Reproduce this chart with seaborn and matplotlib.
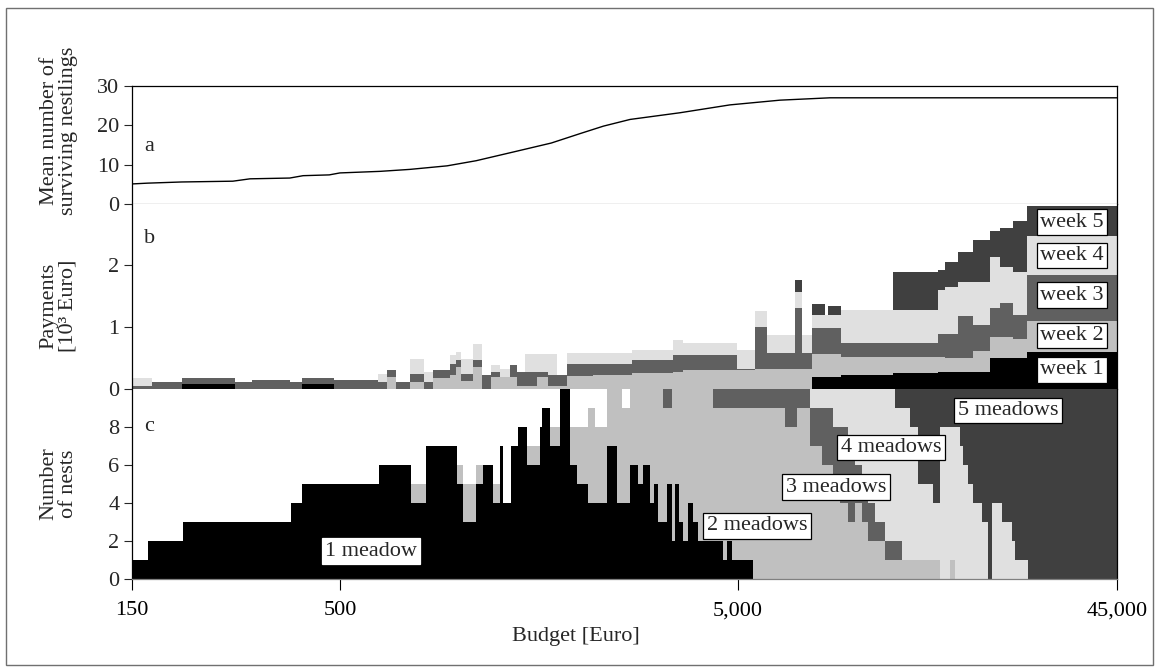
import numpy as np
import matplotlib
matplotlib.use("Agg")
import matplotlib.pyplot as plt
from matplotlib.patches import Rectangle
from matplotlib.ticker import FixedLocator, FixedFormatter, NullLocator
import seaborn as sns

# ---- panel a: mean number of surviving nestlings ----
a_budget = [150, 164, 200, 269, 297, 374, 404, 470, 500, 631, 750, 930, 1100,
            1362, 1700, 2009, 2300, 2684, 3583, 4786, 6394, 8544, 45000]
a_nestlings = [5.1, 5.3, 5.6, 5.8, 6.4, 6.6, 7.2, 7.4, 7.9, 8.3, 8.8, 9.7, 11.0,
               13.2, 15.5, 17.9, 19.8, 21.5, 23.2, 25.2, 26.4, 27.0, 27.0]

# ---- panel b: payments per week [10^3 Euro], step segments ----
b_edges = [150, 168, 200, 272, 300, 375, 401, 483, 623, 657, 692, 750, 814, 857,
           946, 979, 1008, 1080, 1138, 1199, 1263, 1338, 1394, 1460, 1565, 1668,
           1757, 1862, 2164, 2714, 3441, 3646, 4984, 5532, 5930, 6974, 7262, 7695,
           8297, 8442, 9102, 12300, 15962, 16623, 17922, 19549, 21572, 22858,
           24644, 26726, 45000]
b_week1 = [0, 0, 0.08, 0, 0, 0, 0.08, 0, 0, 0, 0, 0, 0, 0,
           0, 0, 0, 0, 0, 0, 0, 0, 0, 0, 0, 0,
           0, 0, 0, 0, 0, 0, 0, 0, 0, 0, 0, 0.20,
           0.20, 0.20, 0.23, 0.25, 0.27, 0.28, 0.28, 0.28, 0.50, 0.50,
           0.50, 0.60]
b_week2 = [0, 0, 0, 0, 0, 0, 0, 0, 0, 0.19, 0, 0.12, 0, 0.17,
           0.22, 0.36, 0.13, 0.36, 0, 0.20, 0.20, 0.20, 0.05, 0.05, 0.20, 0.05,
           0.05, 0.21, 0.23, 0.25, 0.28, 0.31, 0.31, 0.33, 0.33, 0.33, 0.33, 0.36,
           0.36, 0.36, 0.29, 0.27, 0.25, 0.22, 0.22, 0.34, 0.34, 0.34,
           0.30, 0.49]
b_week3 = [0.05, 0.12, 0.09, 0.12, 0.145, 0.12, 0.09, 0.145, 0.12, 0.12, 0.12, 0.12, 0.12, 0.14,
           0.18, 0.10, 0.11, 0.11, 0.23, 0.07, 0, 0.18, 0.22, 0.22, 0.07, 0.18,
           0.18, 0.20, 0.18, 0.21, 0.27, 0.24, 0.02, 0.67, 0.25, 0.97, 0.25, 0.42,
           0.42, 0.42, 0.22, 0.22, 0.37, 0.39, 0.67, 0.41, 0.46, 0.55,
           0.40, 0.75]
b_week4 = [0.12, 0, 0, 0, 0, 0, 0, 0, 0.12, 0, 0, 0.25, 0.16, 0,
           0.15, 0.13, 0.25, 0.26, 0, 0.12, 0.13, 0, 0, 0.29, 0.29, 0.33,
           0, 0.17, 0.17, 0.17, 0.24, 0.19, 0.30, 0.26, 0.29, 0.27, 0.29, 0.21,
           0.21, 0.21, 0.53, 0.53, 0.71, 0.75, 0.56, 0.70, 0.82, 0.58,
           0.68, 0.62]
b_week5 = [0, 0, 0, 0, 0, 0, 0, 0, 0, 0, 0, 0, 0, 0,
           0, 0, 0, 0, 0, 0, 0, 0, 0, 0, 0, 0,
           0, 0, 0, 0, 0, 0, 0, 0, 0, 0.19, 0, 0.18,
           0, 0.14, 0, 0.62, 0.32, 0.41, 0.47, 0.67, 0.43, 0.63,
           0.82, 0.49]
week_labels = ["week 1", "week 2", "week 3", "week 4", "week 5"]
week_label_y = [0.31, 0.86, 1.51, 2.15, 2.69]

# ---- panel c: number of nests by number of meadows, step segments ----
c_edges = [150, 164.5, 201.6, 376.6, 401.4, 627, 754.6, 823, 985, 1020, 1100,
           1145, 1213, 1263, 1285, 1346, 1402, 1477, 1593, 1611, 1687, 1788,
           1895, 1973, 2103, 2190, 2348, 2488, 2561, 2682, 2809, 2892, 3011,
           3082, 3155, 3248, 3324, 3421, 3481, 3562, 3646, 3753, 3863, 3977,
           4338, 4597, 4704, 4842, 5072, 5469, 6034, 6581, 7056, 7607, 8154,
           8690, 9049, 9478, 9871, 10280, 10643, 11084, 11743, 12443, 12959,
           13574, 14216, 15507, 16150, 17112, 17614, 18133, 18449, 18992,
           19549, 20594, 21323, 21822, 23123, 24502, 24931, 26882, 45000]
c_meadow1 = [1, 2, 3, 4, 5, 6, 4, 7, 5, 3, 5,
             6, 4, 7, 4, 7, 8, 6, 8, 9, 7, 10,
             6, 5, 4, 4, 7, 4, 4, 6, 5, 6, 4,
             5, 3, 3, 5, 2, 5, 3, 2, 4, 3, 2,
             2, 1, 2, 1, 1, 0, 0, 0, 0, 0, 0,
             0, 0, 0, 0, 0, 0, 0, 0, 0, 0,
             0, 0, 0, 0, 0, 0, 0, 0, 0,
             0, 0, 0, 0, 0, 0, 0, 0]
c_meadow2 = [0, 0, 0, 0, 0, 0, 1, 0, 1, 2, 1,
             0, 1, 0, 0, 0, 0, 1, 0, 0, 1, 0,
             2, 3, 5, 4, 3, 6, 5, 4, 5, 4, 6,
             5, 7, 6, 4, 8, 5, 7, 8, 6, 7, 8,
             7, 8, 7, 8, 8, 9, 9, 8, 9, 7, 6,
             5, 4, 3, 4, 3, 2, 2, 1, 1, 1,
             1, 1, 1, 0, 1, 0, 0, 0, 0,
             0, 0, 0, 0, 0, 0, 0, 0]
c_meadow3 = [0, 0, 0, 0, 0, 0, 0, 0, 0, 0, 0,
             0, 0, 0, 0, 0, 0, 0, 0, 0, 0, 0,
             0, 0, 0, 0, 0, 0, 0, 0, 0, 0, 0,
             0, 0, 1, 1, 0, 0, 0, 0, 0, 0, 0,
             1, 1, 1, 1, 1, 1, 1, 2, 1, 2, 3,
             3, 4, 4, 2, 2, 2, 1, 1, 1, 0,
             0, 0, 0, 0, 0, 0, 0, 0, 0,
             0, 0, 0, 0, 0, 0, 0, 0]
c_meadow4 = [0, 0, 0, 0, 0, 0, 0, 0, 0, 0, 0,
             0, 0, 0, 0, 0, 0, 0, 0, 0, 0, 0,
             0, 0, 0, 0, 0, 0, 0, 0, 0, 0, 0,
             0, 0, 0, 0, 0, 0, 0, 0, 0, 0, 0,
             0, 0, 0, 0, 0, 0, 0, 0, 0, 1, 1,
             2, 2, 3, 4, 5, 6, 7, 8, 7, 8,
             7, 4, 3, 8, 7, 8, 7, 6, 5,
             4, 3, 0, 4, 3, 2, 1, 0]
c_meadow5 = [0, 0, 0, 0, 0, 0, 0, 0, 0, 0, 0,
             0, 0, 0, 0, 0, 0, 0, 0, 0, 0, 0,
             0, 0, 0, 0, 0, 0, 0, 0, 0, 0, 0,
             0, 0, 0, 0, 0, 0, 0, 0, 0, 0, 0,
             0, 0, 0, 0, 0, 0, 0, 0, 0, 0, 0,
             0, 0, 0, 0, 0, 0, 0, 0, 1, 1,
             2, 5, 6, 2, 2, 2, 3, 4, 5,
             6, 7, 10, 6, 7, 8, 9, 10]
meadow_labels = ["1 meadow", "2 meadows", "3 meadows", "4 meadows", "5 meadows"]
meadow_label_x = [599, 5597, 8842, 12159, 23942]
meadow_label_y = [1.47, 2.79, 4.84, 6.92, 8.87]

x_ticks = [150, 500, 5000, 45000]
x_ticklabels = ["150", "500", "5,000", "45,000"]

GREYS = ["#000000", "#c0c0c0", "#606060", "#e0e0e0", "#404040"]
AXIS_GREY = "#808080"
FS = 16

sns.set_style("white")
plt.rcParams["font.family"] = ["Liberation Serif", "DejaVu Serif"]
plt.rcParams["font.size"] = FS

fig = plt.figure(figsize=(11.6, 6.72), dpi=100)
fig.patches.append(Rectangle((6 / 1160, 1 - 665 / 672), 1147 / 1160, 657 / 672,
                             transform=fig.transFigure, fill=False,
                             edgecolor="#707070", lw=1.0))

L, W = 132 / 1160, 985 / 1160
ax_a = fig.add_axes([L, 1 - 204 / 672, W, 118 / 672])
ax_b = fig.add_axes([L, 1 - 389 / 672, W, 185 / 672], sharex=ax_a)
ax_c = fig.add_axes([L, 1 - 579 / 672, W, 190 / 672], sharex=ax_a)


def stack_steps(ax, edges, layers):
    ys = [np.append(np.asarray(v, float), v[-1]) for v in layers]
    ax.stackplot(edges, *ys, colors=GREYS, step="post", lw=0, antialiased=False)


# panel a
sns.lineplot(x=a_budget, y=a_nestlings, ax=ax_a, color="black", lw=1.0)
ax_a.set_ylim(0, 30)
ax_a.set_yticks([0, 10, 20, 30])
ax_a.set_ylabel("Mean number of\nsurviving nestlings", fontsize=FS, linespacing=1.0)

# panel b
stack_steps(ax_b, b_edges, [b_week1, b_week2, b_week3, b_week4, b_week5])
ax_b.set_ylim(0, 2.98)
ax_b.set_yticks([0, 1, 2])
ax_b.set_ylabel("Payments\n[10³ Euro]", fontsize=FS, linespacing=1.0)
for lab, yv in zip(week_labels, week_label_y):
    ax_b.text(34683, yv, lab, ha="center", va="center", fontsize=FS,
              bbox=dict(boxstyle="square,pad=0.15", fc="white", ec="black", lw=0.9))

# panel c
stack_steps(ax_c, c_edges, [c_meadow1, c_meadow2, c_meadow3, c_meadow4, c_meadow5])
ax_c.set_ylim(0, 10)
ax_c.set_yticks([0, 2, 4, 6, 8])
ax_c.set_ylabel("Number\nof nests", fontsize=FS, linespacing=1.0)
for i, (lab, xv, yv) in enumerate(zip(meadow_labels, meadow_label_x, meadow_label_y)):
    ax_c.text(xv, yv, lab, ha="center", va="center", fontsize=FS,
              bbox=dict(boxstyle="square,pad=0.15", fc="white",
                        ec="white" if i == 0 else "black", lw=0.9))

ax_c.set_xscale("log")
ax_c.set_xlim(150, 45000)
ax_c.xaxis.set_major_locator(FixedLocator(x_ticks))
ax_c.xaxis.set_major_formatter(FixedFormatter(x_ticklabels))
ax_c.xaxis.set_minor_locator(NullLocator())
ax_c.set_xlabel("Budget [Euro]", fontsize=FS)
ax_c.xaxis.set_label_coords(0.451, -0.255)
ax_c.tick_params(axis="x", direction="out", length=8, width=0.8, pad=8,
                 colors="black", labelsize=FS, bottom=True)

for ax, letter, ly, lab_y in [(ax_a, "a", 0.49, 0.62), (ax_b, "b", 0.816, 0.45),
                              (ax_c, "c", 0.805, 0.50)]:
    ax.text(0.012, ly, letter, transform=ax.transAxes, ha="left", va="center",
            fontsize=FS)
    ax.yaxis.set_label_coords(-0.055, lab_y)
    ax.tick_params(axis="y", direction="out", length=6, width=0.8, pad=3,
                   left=True, labelsize=FS)
    ax.set_facecolor("white")
    for side in ["left", "right", "top", "bottom"]:
        ax.spines[side].set_visible(True)
        ax.spines[side].set_linewidth(0.9)
        ax.spines[side].set_color("black")
    ax.spines["top"].set_visible(False)
    ax.spines["bottom"].set_color(AXIS_GREY)

ax_a.spines["top"].set_visible(True)
ax_b.spines["bottom"].set_visible(False)
for ax in (ax_a, ax_b):
    ax.tick_params(axis="x", bottom=False, labelbottom=False)

fig.savefig("out.png", dpi=100)
